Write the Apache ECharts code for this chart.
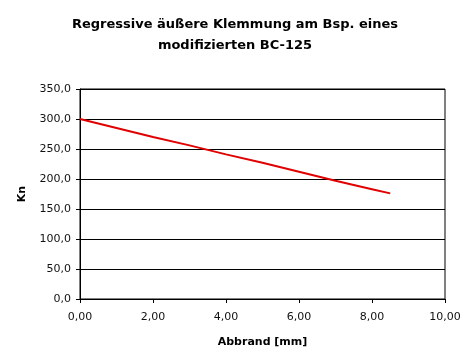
<!DOCTYPE html>
<html>
<head>
<meta charset="utf-8">
<script src="https://cdn.jsdelivr.net/npm/echarts@6/dist/echarts.min.js"></script>
<style>
  html, body { margin: 0; padding: 0; background: #fff; }
  #chart { width: 470px; height: 354px; }
</style>
</head>
<body>
<div id="chart"></div>
<script>
// Abbrand [mm] vs. Kn
const abbrand = [0, 1, 2, 3, 4, 5, 6, 7, 8, 8.5]
const kraft = [300, 285, 270, 256, 241, 227, 212, 197, 183, 176]

const font = 'DejaVu Sans'
const myChart = echarts.init(document.getElementById('chart'))

myChart.setOption({
  animation: false,
  title: {
    text: 'Regressive äußere Klemmung am Bsp. eines\nmodifizierten BC-125',
    left: 'center',
    top: 9,
    textStyle: {
      fontFamily: font,
      fontSize: 13,
      fontWeight: 'bold',
      color: '#000',
      lineHeight: 21
    }
  },
  grid: {
    left: 80,
    right: 25,
    top: 89,
    bottom: 55,
    show: true,
    borderColor: '#000',
    borderWidth: 1
  },
  xAxis: {
    type: 'value',
    min: 0,
    max: 10,
    interval: 2,
    name: 'Abbrand [mm]',
    nameLocation: 'middle',
    nameGap: 38,
    nameTextStyle: { fontFamily: font, fontSize: 11, fontWeight: 'bold', color: '#000' },
    axisLine: { lineStyle: { color: '#000' } },
    axisTick: { show: true, length: 4, lineStyle: { color: '#000' } },
    axisLabel: {
      color: '#111',
      fontFamily: font,
      fontSize: 11,
      margin: 13,
      formatter: v => v.toFixed(2).replace('.', ',')
    },
    splitLine: { show: false }
  },
  yAxis: {
    type: 'value',
    min: 0,
    max: 350,
    interval: 50,
    name: 'Kn',
    nameLocation: 'middle',
    nameGap: 52,
    nameTextStyle: { fontFamily: font, fontSize: 11, fontWeight: 'bold', color: '#000' },
    axisLine: { show: true, lineStyle: { color: '#000' } },
    axisTick: { show: true, length: 4, lineStyle: { color: '#000' } },
    axisLabel: {
      color: '#111',
      fontFamily: font,
      fontSize: 11,
      margin: 9,
      formatter: v => v.toFixed(1).replace('.', ',')
    },
    splitLine: { show: true, lineStyle: { color: '#000', width: 1 } }
  },
  series: [{
    type: 'line',
    data: abbrand.map((x, i) => [x, kraft[i]]),
    showSymbol: false,
    lineStyle: { color: '#e00000', width: 2 }
  }]
})
</script>
</body>
</html>
